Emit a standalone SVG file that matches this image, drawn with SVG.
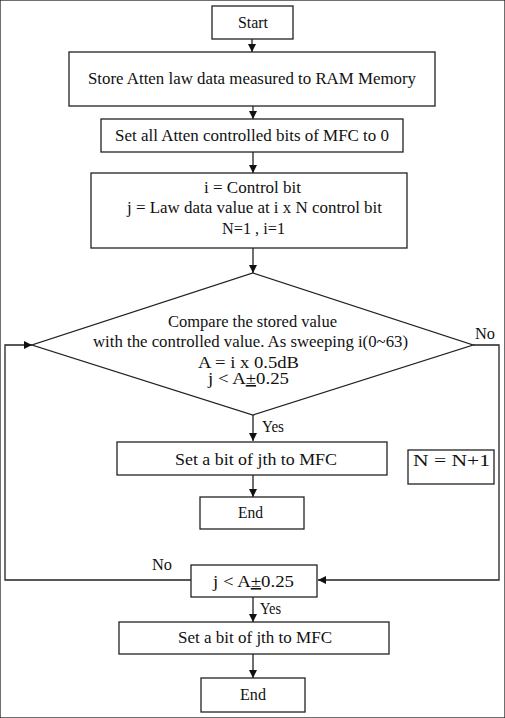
<svg xmlns="http://www.w3.org/2000/svg" width="505" height="718" viewBox="0 0 505 718">
<defs>
<marker id="ah" viewBox="0 0 10 10" refX="10" refY="5" markerWidth="8" markerHeight="8" markerUnits="userSpaceOnUse" orient="auto">
<path d="M0,0 L10,5 L0,10 z" fill="#111"/>
</marker>
<style>
rect,polygon{fill:#fff;stroke:#222;stroke-width:1.3}
.c{fill:none;stroke:#222;stroke-width:1.3}
text{font-family:"Liberation Serif","Times New Roman",serif;font-size:16px;fill:#111}
.m{text-anchor:middle}
</style>
</defs>
<rect width="505" height="718" fill="#fff" stroke="none"/>
<g id="connectors">
<path class="c" d="M252,39 V52" marker-end="url(#ah)"/>
<path class="c" d="M253,106 V119" marker-end="url(#ah)"/>
<path class="c" d="M253,152 V173" marker-end="url(#ah)"/>
<path class="c" d="M253,248 V273" marker-end="url(#ah)"/>
<path class="c" d="M253,415 V441" marker-end="url(#ah)"/>
<path class="c" d="M253,475 V497" marker-end="url(#ah)"/>
<path class="c" d="M473,345 H499 V580 H318" marker-end="url(#ah)"/>
<path class="c" d="M191,580 H5 V345 H32" marker-end="url(#ah)"/>
<path class="c" d="M253,597 V622" marker-end="url(#ah)"/>
<path class="c" d="M253,654 V678" marker-end="url(#ah)"/>
<text x="475" y="339" textLength="20" lengthAdjust="spacingAndGlyphs">No</text>
<text x="262" y="432" textLength="22" lengthAdjust="spacingAndGlyphs">Yes</text>
<text x="152" y="570" textLength="20" lengthAdjust="spacingAndGlyphs">No</text>
<text x="260" y="614" textLength="21" lengthAdjust="spacingAndGlyphs">Yes</text>
</g>
<g id="start"><rect x="212" y="6" width="81" height="33"/><text class="m" x="253" y="28" textLength="30" lengthAdjust="spacingAndGlyphs">Start</text></g>
<g id="store"><rect x="69" y="52" width="366" height="54"/><text class="m" x="252" y="84" textLength="328" lengthAdjust="spacingAndGlyphs">Store Atten law data measured to RAM Memory</text></g>
<g id="setall"><rect x="101" y="119" width="302" height="33"/><text class="m" x="252" y="141" textLength="274" lengthAdjust="spacingAndGlyphs">Set all Atten controlled bits of MFC to 0</text></g>
<g id="init"><rect x="91" y="173" width="316" height="75"/>
<text class="m" x="252.5" y="193" textLength="97" lengthAdjust="spacingAndGlyphs">i = Control bit</text>
<text class="m" x="254.5" y="213" textLength="255" lengthAdjust="spacingAndGlyphs">j = Law data value at i x N control bit</text>
<text class="m" x="253.5" y="234" textLength="63" lengthAdjust="spacingAndGlyphs">N=1 , i=1</text></g>
<g id="compare"><polygon points="253,273 473,345 253,415 32,345"/>
<text class="m" x="252.5" y="327" textLength="169" lengthAdjust="spacingAndGlyphs">Compare the stored value</text>
<text class="m" x="250.5" y="347" textLength="315" lengthAdjust="spacingAndGlyphs">with the controlled value. As sweeping i(0~63)</text>
<text class="m" x="248.5" y="368" textLength="101" lengthAdjust="spacingAndGlyphs">A = i x 0.5dB</text>
<text class="m" x="248.5" y="384" textLength="81" lengthAdjust="spacingAndGlyphs">j &lt; A<tspan text-decoration="underline">±</tspan>0.25</text></g>
<g id="set1"><rect x="117" y="442" width="270" height="33"/><text class="m" x="256" y="465" textLength="162" lengthAdjust="spacingAndGlyphs">Set a bit of jth to MFC</text></g>
<g id="inc"><rect x="408" y="450" width="86" height="34"/><text class="m" x="451.5" y="466" textLength="77" lengthAdjust="spacingAndGlyphs">N = N+1</text></g>
<g id="end1"><rect x="200" y="497" width="104" height="32"/><text class="m" x="250.5" y="518" textLength="25" lengthAdjust="spacingAndGlyphs">End</text></g>
<g id="check"><rect x="191" y="565" width="126" height="32"/><text class="m" x="253.5" y="587" textLength="81" lengthAdjust="spacingAndGlyphs">j &lt; A<tspan text-decoration="underline">±</tspan>0.25</text></g>
<g id="set2"><rect x="119" y="622" width="270" height="32"/><text class="m" x="255" y="643" textLength="154" lengthAdjust="spacingAndGlyphs">Set a bit of jth to MFC</text></g>
<g id="end2"><rect x="201" y="678" width="104" height="34"/><text class="m" x="253" y="700" textLength="26" lengthAdjust="spacingAndGlyphs">End</text></g>
</svg>
